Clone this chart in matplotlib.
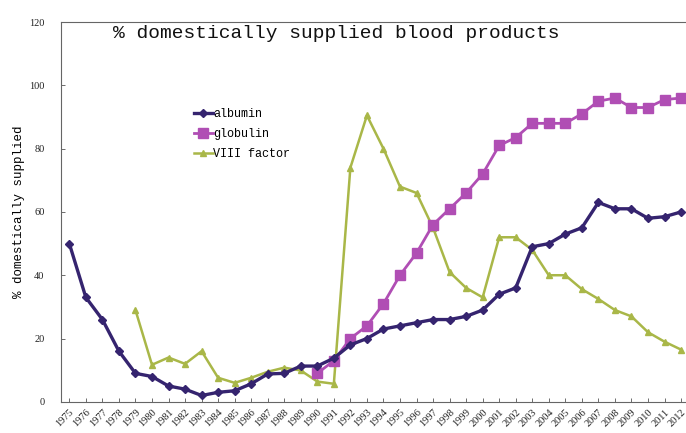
import numpy as np
import matplotlib.pyplot as plt

years = list(range(1975, 2013))

# % domestically supplied, by product
albumin = [50, 33, 26, 16, 9, 8, 5, 4, 2, 3, 3.5, 5.7, 8.8, 9, 11.3, 11.3, 13.8,
           18, 20, 23, 24, 25, 26, 26, 27, 29, 34, 36, 49, 50, 53, 55, 63, 61, 61,
           58, 58.5, 60]
globulin_years = list(range(1990, 2013))
globulin = [9, 13, 20, 24, 31, 40, 47, 56, 61, 66, 72, 81, 83.5, 88, 88, 88, 91,
            95, 96, 93, 93, 95.5, 96]
factor8_years = list(range(1979, 2013))
factor8 = [29, 11.7, 14, 12, 16, 7.6, 6, 7.6, 9.5, 10.8, 9.9, 6.4, 5.7, 74, 90.5,
           80, 68, 66, 55, 41, 36, 33, 52, 52, 48, 40, 40, 35.6, 32.5, 29, 27,
           22, 19, 16.5]

serif = "Liberation Serif"
mono = "Liberation Mono"

fig = plt.figure(figsize=(6.86, 4.33), dpi=100)
ax = fig.add_axes([0.089, 0.072, 0.911, 0.877])

ax.plot(years, albumin, color="#35246f", lw=2.4, marker="D", ms=4.5,
        label="albumin", zorder=3)
ax.plot(globulin_years, globulin, color="#b04eb4", lw=2.0, marker="s", ms=6.5,
        label="globulin", zorder=2)
ax.plot(factor8_years, factor8, color="#a9b748", lw=1.8, marker="^", ms=4,
        label="VIII factor", zorder=1)

ax.set_xlim(1974.5, 2012.3)
ax.set_ylim(0, 120)
ax.set_xticks(years)
ax.set_xticklabels([str(y) for y in years], rotation=45, ha="right",
                   rotation_mode="anchor", fontsize=7.5, family=serif)
ax.set_yticks(range(0, 121, 20))
ax.set_yticklabels([str(v) for v in range(0, 121, 20)], fontsize=7.5, family=serif)
ax.tick_params(axis="both", direction="in", length=3, width=0.6, colors="#555555",
               labelcolor="#222222", pad=12)
ax.tick_params(axis="x", pad=4)

ax.spines["right"].set_visible(False)
for s in ("left", "top", "bottom"):
    ax.spines[s].set_color("#666666")
    ax.spines[s].set_linewidth(0.8)

ax.set_ylabel("% domestically supplied", family=mono, fontsize=9, labelpad=3)

fig.text(0.49, 0.923, "% domestically supplied blood products", family=mono,
         fontsize=14, ha="center", va="center", color="#111111")

ax.legend(loc="upper left", bbox_to_anchor=(0.205, 0.785), frameon=False,
          prop={"family": mono, "size": 8.5}, handlelength=1.6,
          handletextpad=0.0, labelspacing=0.65, borderaxespad=0)

fig.savefig("out.png", dpi=100, facecolor="white")
